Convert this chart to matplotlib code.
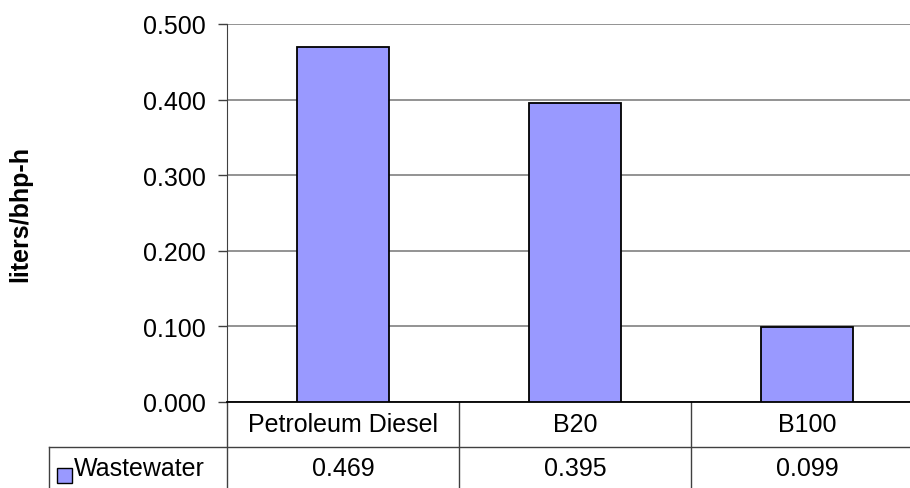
import matplotlib.pyplot as plt
from matplotlib.patches import Rectangle
import numpy as np

plt.rcParams['font.family'] = ['Liberation Sans', 'DejaVu Sans']

# data
categories = ['Petroleum Diesel', 'B20', 'B100']
wastewater = [0.469, 0.395, 0.099]
series_name = 'Wastewater'
yticks = [0.0, 0.1, 0.2, 0.3, 0.4, 0.5]

bar_color = '#9999ff'
fs = 18

fig = plt.figure(figsize=(9.10, 4.89), dpi=100)
ax = fig.add_axes([227 / 910, 86 / 489, 696 / 910, 378 / 489])

x = np.arange(len(categories))
ax.bar(x, wastewater, width=0.397, color=bar_color, edgecolor='black', linewidth=1.3, zorder=3)

ax.set_xlim(-0.5, len(categories) - 0.5)
ax.set_ylim(0, 0.5)
ax.set_yticks(yticks)
ax.set_yticklabels([f'{t:.3f}' for t in yticks], fontsize=fs)
ax.tick_params(axis='y', length=6.5, width=1, pad=9, color='#404040')
ax.set_xticks([])
ax.grid(axis='y', color='#808080', linewidth=1.2, zorder=0)
for s in ['top', 'right']:
    ax.spines[s].set_visible(False)
ax.spines['left'].set_color('#404040')
ax.spines['bottom'].set_color('black')
ax.spines['bottom'].set_linewidth(1.3)
ax.set_ylabel('liters/bhp-h', fontsize=fs, fontweight='bold')
ax.yaxis.set_label_coords(-195 / 696, 0.5)

# data table under the chart
tr = ax.get_xaxis_transform()
row1 = -45 / 378
bottom = -0.3
left = -0.5 - 178 / 232
lc = '#404040'
ax.plot([left, len(categories) - 0.5], [row1, row1], transform=tr, color=lc, lw=1, clip_on=False)
ax.plot([left, left], [row1, bottom], transform=tr, color=lc, lw=1, clip_on=False)
for xv in np.arange(len(categories) + 1) - 0.5:
    ax.plot([xv, xv], [0, bottom], transform=tr, color=lc, lw=1, clip_on=False)

for i, (c, v) in enumerate(zip(categories, wastewater)):
    ax.text(i, row1 / 2, c, transform=tr, ha='center', va='center', fontsize=fs)
    ax.text(i, -66 / 378, f'{v:.3f}', transform=tr, ha='center', va='center', fontsize=fs)

ax.add_patch(Rectangle((-0.5 - 170 / 232, -81 / 378), 15 / 232, 15 / 378, transform=tr,
                       facecolor=bar_color, edgecolor='black', lw=1, clip_on=False))
ax.text(-0.5 - 153 / 232, -66 / 378, series_name, transform=tr, ha='left', va='center', fontsize=fs)

fig.savefig('out.png', dpi=100)
